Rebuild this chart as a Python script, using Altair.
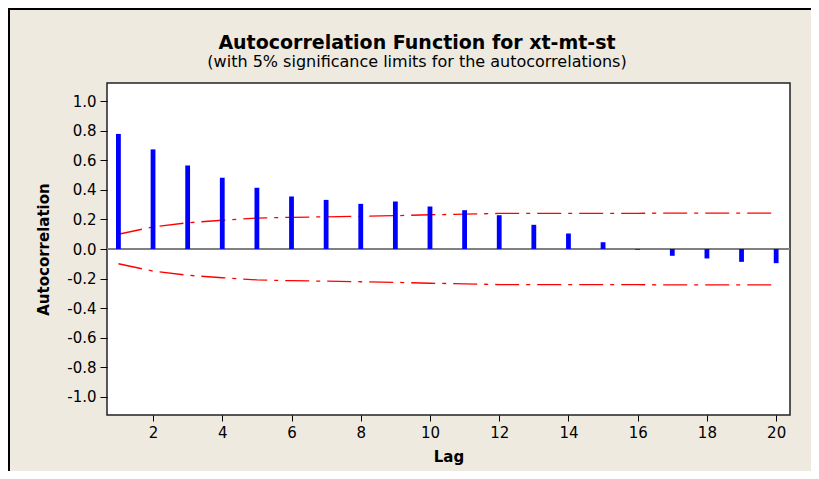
import altair as alt
import pandas as pd

lags = list(range(1, 21))
acf = [0.78, 0.675, 0.566, 0.483, 0.415, 0.356, 0.333, 0.306, 0.322, 0.288,
       0.263, 0.229, 0.164, 0.105, 0.046, -0.005, -0.046, -0.064, -0.087, -0.096]
upper = [0.100, 0.150, 0.178, 0.195, 0.209, 0.215, 0.218, 0.222, 0.226, 0.232,
         0.236, 0.241, 0.242, 0.242, 0.242, 0.242, 0.243, 0.243, 0.243, 0.243]
lower = [-u for u in upper]
y_ticks = [-1.0, -0.8, -0.6, -0.4, -0.2, 0.0, 0.2, 0.4, 0.6, 0.8, 1.0]
x_ticks = [2, 4, 6, 8, 10, 12, 14, 16, 18, 20]
title_text = "Autocorrelation Function for xt-mt-st"
subtitle_text = "(with 5% significance limits for the autocorrelations)"

df = pd.DataFrame({"lag": lags, "acf": acf, "zero": [0.0] * len(lags)})
lim = pd.DataFrame({
    "lag": lags * 2,
    "limit": upper + lower,
    "side": ["upper"] * len(lags) + ["lower"] * len(lags),
})
one = pd.DataFrame({"t": [title_text], "s": [subtitle_text]})

FONT = "DejaVu Sans"
xs = alt.Scale(domain=[0.67, 20.4], nice=False, zero=False)
ys = alt.Scale(domain=[-1.125, 1.125], nice=False, zero=False)

xaxis = alt.Axis(values=x_ticks, title="Lag", grid=False, domain=False,
                 tickColor="#000", tickSize=6, tickWidth=1, labelFontSize=15,
                 labelFont=FONT, labelColor="#000", labelPadding=4,
                 titleFont=FONT, titleFontSize=15, titleFontWeight="bold",
                 titleColor="#000", titlePadding=9)
yaxis = alt.Axis(values=y_ticks,
                 labelExpr="(datum.value < -0.001 ? '-' : '') + format(abs(datum.value), '.1f')",
                 title="Autocorrelation", grid=False,
                 domain=False, tickColor="#000", tickSize=7, tickWidth=1,
                 labelFontSize=15, labelFont=FONT, labelColor="#000", labelPadding=4,
                 titleFont=FONT, titleFontSize=15, titleFontWeight="bold",
                 titleColor="#000", titlePadding=15)

zero_line = alt.Chart(df).mark_rule(color="#808080", strokeWidth=1.5).encode(
    y=alt.datum(0, scale=ys, axis=yaxis),
    x=alt.value(0), x2=alt.value(683),
)

bars = alt.Chart(df).mark_rule(color="#0000FF", strokeWidth=4.8, strokeCap="butt").encode(
    x=alt.X("lag:Q", scale=xs, axis=xaxis),
    y=alt.Y("zero:Q", scale=ys, axis=yaxis),
    y2="acf:Q",
)

limits = alt.Chart(lim).mark_line(color="#FF0000", strokeWidth=1.3,
                                  strokeDash=[24, 7, 4, 7]).encode(
    x=alt.X("lag:Q", scale=xs, axis=xaxis),
    y=alt.Y("limit:Q", scale=ys, axis=yaxis),
    detail="side:N",
)

left_border = alt.Chart(one).mark_rule(color="#000", strokeWidth=2).encode(
    x=alt.value(-98), y=alt.value(-75), y2=alt.value(400),
)
top_border = alt.Chart(one).mark_rule(color="#000", strokeWidth=2).encode(
    x=alt.value(-99), x2=alt.value(704), y=alt.value(-74),
)

title = alt.Chart(one).mark_text(font=FONT, fontSize=19, fontWeight="bold",
                                 color="#000", align="center", baseline="alphabetic").encode(
    text="t:N", x=alt.value(310), y=alt.value(-34),
)
subtitle = alt.Chart(one).mark_text(font=FONT, fontSize=16, color="#000",
                                    align="center", baseline="alphabetic").encode(
    text="s:N", x=alt.value(310), y=alt.value(-16),
)

chart = alt.layer(left_border, top_border, zero_line, limits, bars, title, subtitle).properties(
    width=683,
    height=332,
    autosize=alt.AutoSizeParams(type="none"),
    padding={"left": 99, "top": 75, "right": 21, "bottom": 56},
    background="#EEEAE0",
).configure_view(
    fill="#FFFFFF", stroke="#222222", strokeWidth=1.5, clip=False,
)

chart.save("out.html", embed_options={"renderer": "svg", "actions": False})
